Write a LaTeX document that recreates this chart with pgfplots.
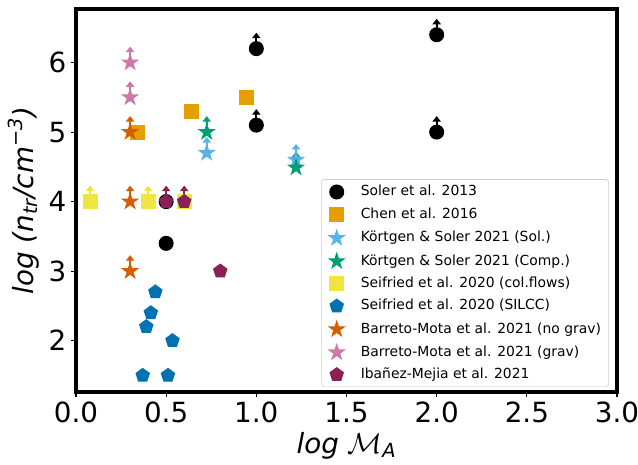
\documentclass[border=0pt]{standalone}
\usepackage{fontspec}
\setmainfont{DejaVu Sans}
\usepackage{amsmath}
\usepackage{pgfplots}
\pgfplotsset{compat=1.18}
\usetikzlibrary{arrows.meta,plotmarks}

\definecolor{cChen}{HTML}{E69F00}
\definecolor{cKSol}{HTML}{56B4E9}
\definecolor{cKComp}{HTML}{009E73}
\definecolor{cSeiCol}{HTML}{F0E442}
\definecolor{cSILCC}{HTML}{0072B2}
\definecolor{cBMno}{HTML}{D55E00}
\definecolor{cBMgr}{HTML}{CC79A7}
\definecolor{cIbz}{HTML}{882255}

\pgfdeclareplotmark{fstar}{%
  \pgfpathmoveto{\pgfpointpolar{90}{\pgfplotmarksize}}%
  \pgfpathlineto{\pgfpointpolar{126}{0.382\pgfplotmarksize}}%
  \pgfpathlineto{\pgfpointpolar{162}{\pgfplotmarksize}}%
  \pgfpathlineto{\pgfpointpolar{198}{0.382\pgfplotmarksize}}%
  \pgfpathlineto{\pgfpointpolar{234}{\pgfplotmarksize}}%
  \pgfpathlineto{\pgfpointpolar{270}{0.382\pgfplotmarksize}}%
  \pgfpathlineto{\pgfpointpolar{306}{\pgfplotmarksize}}%
  \pgfpathlineto{\pgfpointpolar{342}{0.382\pgfplotmarksize}}%
  \pgfpathlineto{\pgfpointpolar{18}{\pgfplotmarksize}}%
  \pgfpathlineto{\pgfpointpolar{54}{0.382\pgfplotmarksize}}%
  \pgfpathclose
  \pgfusepathqfillstroke
}

\pgfplotsset{
  pt/.style={only marks, mark size=5pt, line width=0.8pt},
  pts/.style={only marks, mark size=5.6pt, line width=0.8pt},
  arr/.style={
    error bars/y dir=plus,
    error bars/y explicit,
    error bars/error mark=none,
    error bars/error bar style={line width=1.4pt, -{Triangle[width=6pt,length=4pt]}}
  },
}

\begin{document}
\begin{tikzpicture}
\begin{axis}[
  scale only axis,
  width=389.5pt, height=275.8pt,
  xmin=0, xmax=3, ymin=1.26, ymax=6.77,
  axis line style={line width=2.9pt},
  tick align=outside,
  xtick pos=bottom, ytick pos=left,
  major tick length=3.5pt,
  tick style={line width=0.8pt, black},
  xtick={0,0.5,1,1.5,2,2.5,3},
  ytick={2,3,4,5,6},
  /pgf/number format/assume math mode=true,
  x tick label style={/pgf/number format/.cd, fixed, fixed zerofill, precision=1},
  tick label style={font=\fontsize{20}{24}\selectfont},
  label style={font=\fontsize{20}{24}\selectfont},
  xlabel={\textit{log} $\mathcal{M}_{\text{\itshape A}}$},
  ylabel={\textit{log (n$_{\text{\itshape tr}}$/cm$^{\text{−3}}$)}},
  legend cell align=left,
  legend style={at={(0.985,0.013)}, anchor=south east, draw=black!20,
    rounded corners=2pt, fill=white,
    font=\fontsize{10}{12}\selectfont,
    inner xsep=5.5pt, inner ysep=4pt,
    nodes={inner sep=0pt, text height=7.5pt, text depth=2pt},
    row sep=6.3pt, column sep=12pt},
]

% Soler et al. 2013
\addplot[pt, mark=*, color=black, arr] coordinates {
  (1.0,5.1) +- (0,0.23)
  (1.0,6.2) +- (0,0.23)
  (2.0,5.0) +- (0,0.23)
  (2.0,6.4) +- (0,0.23)
};
\addlegendentry{Soler et al. 2013}
\addplot[pt, mark=*, color=black, forget plot] coordinates {
  (0.5,3.4) (0.5,4.0)
};

% Chen et al. 2016
\addplot[pt, mark=square*, color=cChen] coordinates {
  (0.342,5.0) (0.64,5.3) (0.943,5.5)
};
\addlegendentry{Chen et al. 2016}

% Kortgen & Soler Sol.
\addplot[pts, mark=fstar, color=cKSol, arr] coordinates {
  (0.725,4.7) +- (0,0.23)
  (1.22,4.6) +- (0,0.23)
};
\addlegendentry{Körtgen \& Soler 2021 (Sol.)}

% Kortgen & Soler Comp.
\addplot[pts, mark=fstar, color=cKComp, arr] coordinates {
  (0.725,5.0) +- (0,0.23)
  (1.22,4.49) +- (0,0.23)
};
\addlegendentry{Körtgen \& Soler 2021 (Comp.)}

% Seifried col. flows
\addplot[pt, mark=square*, color=cSeiCol, arr] coordinates {
  (0.078,4.0) +- (0,0.23)
  (0.40,4.0) +- (0,0.23)
  (0.60,4.0) +- (0,0.23)
};
\addlegendentry{Seifried et al. 2020 (col.flows)}

% Seifried SILCC
\addplot[pt, mark=pentagon*, color=cSILCC] coordinates {
  (0.44,2.7) (0.415,2.4) (0.39,2.2) (0.535,2.0) (0.37,1.5) (0.51,1.5)
};
\addlegendentry{Seifried et al. 2020 (SILCC)}

% Barreto-Mota no grav
\addplot[pts, mark=fstar, color=cBMno, arr] coordinates {
  (0.30,5.0) +- (0,0.23)
  (0.30,4.0) +- (0,0.23)
  (0.30,3.0) +- (0,0.23)
};
\addlegendentry{Barreto-Mota et al. 2021 (no grav)}

% Barreto-Mota grav
\addplot[pts, mark=fstar, color=cBMgr, arr] coordinates {
  (0.30,6.0) +- (0,0.23)
  (0.30,5.5) +- (0,0.23)
};
\addlegendentry{Barreto-Mota et al. 2021 (grav)}

% Ibanez-Mejia
\addplot[pt, mark=pentagon*, color=cIbz, arr] coordinates {
  (0.5,4.0) +- (0,0.23)
  (0.6,4.0) +- (0,0.23)
};
\addlegendentry{Ibañez-Mejia et al. 2021}
\addplot[pt, mark=pentagon*, color=cIbz, forget plot] coordinates {
  (0.8,3.0)
};

\end{axis}
\path (current axis.south west) ++(-54.7pt,-51.8pt) coordinate (bbl);
\path (current axis.north east) ++(15.1pt,6.5pt) coordinate (btr);
\pgfresetboundingbox
\path[use as bounding box] (bbl) rectangle (btr);
\end{tikzpicture}
\end{document}
